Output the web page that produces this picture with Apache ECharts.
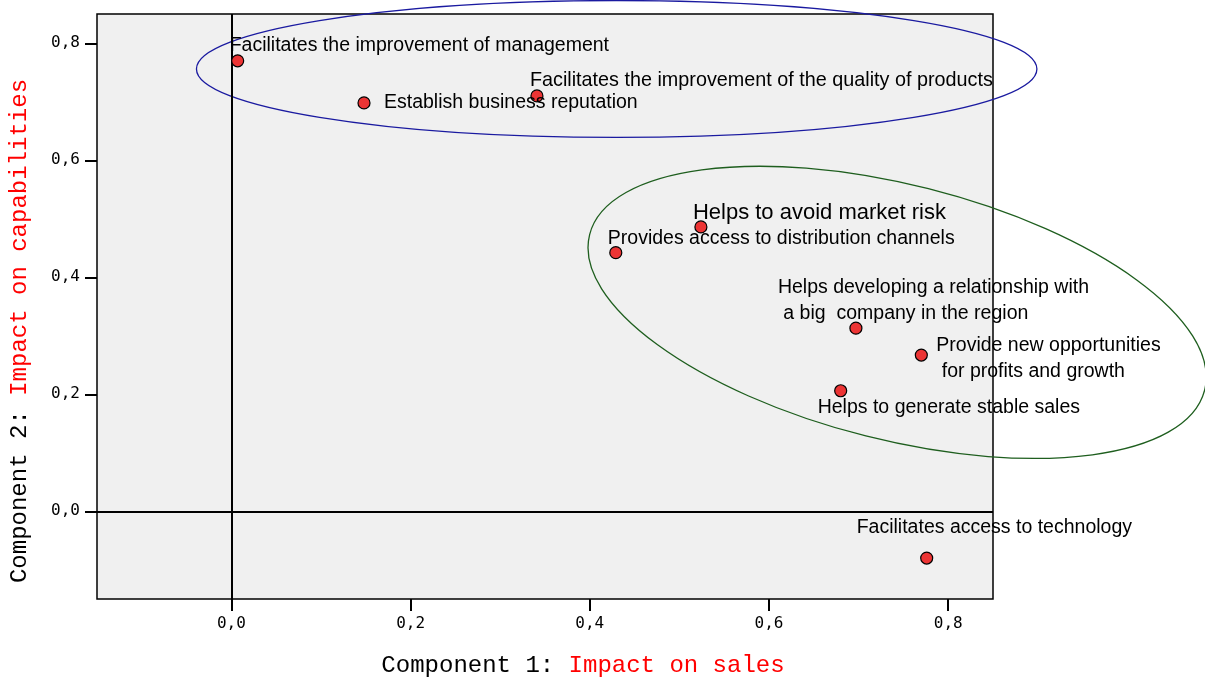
<!DOCTYPE html>
<html><head><meta charset="utf-8">
<script src="https://cdn.jsdelivr.net/npm/echarts@6/dist/echarts.min.js"></script>
<style>html,body{margin:0;padding:0;background:#fff}#c{width:1205px;height:678px}</style>
</head><body><div id="c"></div>
<script>
// ---- data ----
const labels = [
  'Facilitates the improvement of management',
  'Establish business reputation',
  'Facilitates the improvement of the quality of products',
  'Helps to avoid market risk',
  'Provides access to distribution channels',
  'Helps developing a relationship with\n a big  company in the region',
  'Provide new opportunities\n for profits and growth',
  'Helps to generate stable sales',
  'Facilitates access to technology'
];
const xValues = [0.007, 0.148, 0.341, 0.524, 0.429, 0.697, 0.770, 0.680, 0.776];
const yValues = [0.770, 0.698, 0.710, 0.486, 0.442, 0.313, 0.267, 0.206, -0.080];
const tickValues = [0, 0.2, 0.4, 0.6, 0.8];
const xTitle = ['Component 1: ', 'Impact on sales'];
const yTitle = ['Component 2: ', 'Impact on capabilities'];
// annotation ellipses in data space: centre, radii (x units, y units), tilt in degrees
const ellipseCenters = [[0.430, 0.756], [0.743, 0.340]];
const ellipseRadii = [[0.469, 0.117], [0.354, 0.218]];
const ellipseAngles = [0, 14.2];

// ---- styles ----
const labelOffsets = [[-8,-15],[20,0],[-7,-15],[-8,-14],[-8,-14],[-78,-28],[15,4],[-23,17],[-70,-30]];
const labelSizes = [19.5,19.5,19.8,22,19.5,19.5,19.5,19.5,19.5];
const ellipseColors = ['#1a1aa0', '#1e5e1e'];

const chart = echarts.init(document.getElementById('c'), null, {renderer: 'canvas'});
const fmt = v => v.toFixed(1).replace('.', ',');

const axisCommon = {
  type: 'value', min: -0.15, max: 0.85,
  axisLine: {show: false, onZero: false},
  splitLine: {show: false},
  axisTick: {show: true, inside: false, customValues: tickValues, length: 12, lineStyle: {color: '#000', width: 2}}
};

const option = {
  animation: false,
  backgroundColor: '#ffffff',
  grid: {left: 97, top: 14, width: 896, height: 585, show: true,
         backgroundColor: '#f0f0f0', borderColor: '#000', borderWidth: 1.5},
  xAxis: Object.assign({}, axisCommon, {
    position: 'bottom',
    axisLabel: {customValues: tickValues, formatter: fmt, fontFamily: 'DejaVu Sans Mono',
                fontSize: 16, color: '#000', margin: 17}
  }),
  yAxis: Object.assign({}, axisCommon, {
    position: 'left',
    axisLabel: {customValues: tickValues, formatter: fmt, fontFamily: 'DejaVu Sans Mono',
                fontSize: 16, color: '#000', margin: 17}
  }),
  series: [{
    type: 'scatter',
    symbol: 'circle',
    symbolSize: 12,
    itemStyle: {color: '#ec3434', borderColor: '#000', borderWidth: 1.2, opacity: 1},
    label: {
      show: true, position: 'inside', formatter: '{b}', align: 'left', verticalAlign: 'middle',
      color: '#000', fontFamily: 'Liberation Sans, Arial, sans-serif', lineHeight: 26
    },
    data: xValues.map((x, i) => ({
      name: labels[i], value: [x, yValues[i]],
      label: {offset: labelOffsets[i], fontSize: labelSizes[i]}
    })),
    markLine: {
      silent: true, symbol: ['none', 'none'], label: {show: false},
      lineStyle: {color: '#000', width: 2, type: 'solid'},
      data: [{xAxis: 0}, {yAxis: 0}]
    },
    z: 5
  }]
};
chart.setOption(option);

const graphics = [
  {type: 'text', x: 583, y: 666, z: 10,
   style: {text: '{a|' + xTitle[0] + '}{b|' + xTitle[1] + '}', textAlign: 'center', textVerticalAlign: 'middle',
     rich: {a: {fontFamily: 'Liberation Mono', fontSize: 24, fill: '#000', color: '#000'},
            b: {fontFamily: 'Liberation Mono', fontSize: 24, fill: '#ff0000', color: '#ff0000'}}}},
  {type: 'text', x: 20, y: 331, rotation: Math.PI / 2, z: 10,
   style: {text: '{a|' + yTitle[0] + '}{b|' + yTitle[1] + '}', textAlign: 'center', textVerticalAlign: 'middle',
     rich: {a: {fontFamily: 'Liberation Mono', fontSize: 24, fill: '#000', color: '#000'},
            b: {fontFamily: 'Liberation Mono', fontSize: 24, fill: '#ff0000', color: '#ff0000'}}}}
];
ellipseCenters.forEach((c, i) => {
  const p = chart.convertToPixel({gridIndex: 0}, c);
  const px = chart.convertToPixel({gridIndex: 0}, [c[0] + ellipseRadii[i][0], c[1] + ellipseRadii[i][1]]);
  graphics.push({
    type: 'ellipse', x: p[0], y: p[1], rotation: -ellipseAngles[i] * Math.PI / 180, z: 4, silent: true,
    shape: {cx: 0, cy: 0, rx: Math.abs(px[0] - p[0]), ry: Math.abs(px[1] - p[1])},
    style: {fill: 'none', stroke: ellipseColors[i], lineWidth: 1.3}
  });
});
chart.setOption({graphic: graphics});
</script>
</body></html>
